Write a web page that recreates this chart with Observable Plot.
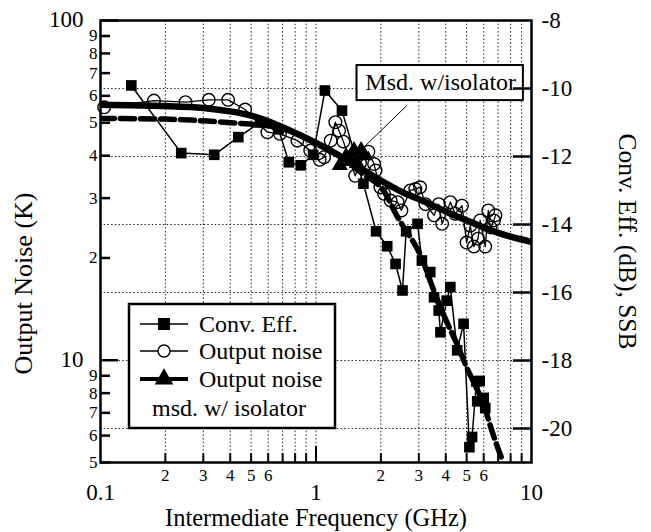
<!DOCTYPE html>
<html><head><meta charset="utf-8">
<script src="https://cdn.jsdelivr.net/npm/d3@7"></script>
<script src="https://cdn.jsdelivr.net/npm/@observablehq/plot@0.6"></script>
<style>
body{margin:0;background:#fff;}
#chart{width:651px;height:532px;}
#chart svg, #chart svg text { font-family: "Liberation Serif", "Times New Roman", "DejaVu Serif", serif !important; }
</style></head><body><div id="chart"></div>
<script>
// ---- data ----
const convFreq = [0.139,0.237,0.337,0.436,0.55,0.67,0.748,0.85,0.97,1.10,1.32,1.66,1.90,2.14,2.34,2.52,2.62,2.96,3.10,3.39,3.53,3.71,3.78,4.04,4.20,4.52,4.84,5.15,5.30,5.55,5.75,5.60,6.00,6.10];
const convDb   = [-9.91,-11.90,-11.95,-11.43,-11.0,-11.2,-12.17,-12.26,-11.95,-10.06,-10.65,-12.8,-14.2,-14.64,-15.16,-15.94,-14.2,-13.98,-15.06,-15.4,-16.14,-16.53,-17.17,-16.24,-15.84,-17.7,-16.92,-20.55,-20.25,-18.62,-18.6,-19.2,-19.1,-19.4];

const noiseFreq = [0.104,0.177,0.248,0.318,0.391,0.469,0.595,0.68,0.82,0.94,1.04,1.09,1.17,1.23,1.28,1.34,1.52,1.60,1.75,1.86,1.89,1.99,2.07,2.22,2.39,2.49,2.74,2.89,3.04,3.22,3.53,3.71,3.85,4.20,4.43,4.76,5.00,5.20,5.40,5.65,5.78,6.10,6.30,6.45,6.70,6.80];
const noiseK    = [55.5,58.1,57.5,58.4,58.4,54.7,46.9,46.4,44.3,41.4,38.9,39.6,44.3,50.2,47.4,44.0,34.9,38.0,41.1,37.8,36.2,32.3,30.9,29.5,29.2,27.6,31.6,31.9,32.3,28.8,26.7,28.8,25.2,29.2,27.0,28.5,22.2,24.9,21.6,22.8,25.8,21.6,27.6,24.6,25.8,26.7];

const isoFreq = [1.29,1.38,1.45,1.50,1.55,1.62,1.68];
const isoK    = [37.5,39.8,38.5,41.5,38.0,41.5,40.0];

const fitNoiseFreq = [0.1,0.2,0.3,0.4,0.5,0.6,0.7,0.8,1.0,1.2,1.5,2.0,2.5,3.0,3.5,4.0,5.0,6.0,7.0,8.0,10];
const fitNoiseK    = [56.5,56.0,55.3,54.0,52.5,50.5,48.5,46.7,43.6,41.0,37.8,33.8,31.3,29.8,28.5,27.4,25.8,24.6,23.7,23.1,22.3];

const fitConvFreq = [0.1,0.2,0.3,0.45,0.6,0.8,1.0,1.3,1.6,2.0,2.4,3.0,3.5,4.0,4.5,5.0,5.5,6.0,6.5,7.0,7.35];
const fitConvDb   = [-10.88,-10.9,-10.95,-11.03,-11.1,-11.3,-11.6,-12.0,-12.45,-12.9,-13.8,-14.8,-15.9,-16.8,-17.5,-18.2,-18.75,-19.3,-20.0,-20.6,-20.95];

const xGridTicks = [0.2,0.3,0.4,0.5,0.6,0.7,0.8,0.9,1,2,3,4,5,6,7,8,9];
const xMinorTicks = [0.2,0.3,0.4,0.5,0.6,0.7,0.8,0.9,2,3,4,5,6,7,8,9];
const xMajorTicks = [1];
const xBigLabels = [0.1, 1, 10];
const xSmallLabels = [0.2,0.3,0.4,0.5,0.6,2,3,4,5,6];
const yMajorK = [10, 100];
const yMinorK = [90,80,70,60,50,40,30,20,9,8,7,6,5];
const yBigLabels = [100, 10];
const ySmallLabels = [90,80,70,60,50,40,30,20,9,8,7,6,5];
const dbTicks = [-10,-12,-14,-16,-18,-20];
const dbLabels = [-8,-10,-12,-14,-16,-18,-20];

// right axis (dB, linear from -21 to -8) mapped onto the left log scale (5 .. 100 K)
const dbToK = db => 10 ** (2 - (-8 - db) / 13 * Math.log10(20));

const conv = convFreq.map((f, i) => ({f, v: dbToK(convDb[i])}));
const noise = noiseFreq.map((f, i) => ({f, v: noiseK[i]}));
const iso = isoFreq.map((f, i) => ({f, v: isoK[i]}));
const fitNoise = fitNoiseFreq.map((f, i) => ({f, v: fitNoiseK[i]}));
const fitConv = fitConvFreq.map((f, i) => ({f, v: dbToK(fitConvDb[i])}));

const serif = "Liberation Serif";
const W = 651, H = 532, mL = 100, mR = 120, mT = 20, mB = 70;
const pw = W - mL - mR, ph = H - mT - mB;
const gridStyle = {stroke: "#222", strokeWidth: 1, strokeDasharray: "1.5,2.2"};
const txt = {fill: "black", fontFamily: serif};

const plot = Plot.plot({
  width: W, height: H,
  marginLeft: mL, marginRight: mR, marginTop: mT, marginBottom: mB,
  x: {type: "log", domain: [0.1, 10], axis: null},
  y: {type: "log", domain: [5, 100], axis: null},
  style: {background: "white", color: "black", overflow: "visible"},
  marks: [
    Plot.ruleX(xGridTicks, {x: d => d, ...gridStyle}),
    Plot.ruleY(dbTicks, {y: d => dbToK(d), ...gridStyle}),
    // model curves
    Plot.line(fitNoise, {x: "f", y: "v", stroke: "black", strokeWidth: 6.5, curve: "catmull-rom", clip: true}),
    Plot.line(fitConv, {x: "f", y: "v", stroke: "black", strokeWidth: 5.5, strokeDasharray: "14,6", curve: "catmull-rom", clip: true}),
    // conv. eff.
    Plot.line(conv, {x: "f", y: "v", stroke: "black", strokeWidth: 1.5}),
    Plot.dot(conv, {x: "f", y: "v", symbol: "square", r: 6, fill: "black"}),
    // output noise
    Plot.line(noise, {x: "f", y: "v", stroke: "black", strokeWidth: 1.3}),
    Plot.dot(noise, {x: "f", y: "v", symbol: "circle", r: 6.3, stroke: "black", fill: "none", strokeWidth: 1.4}),
    // output noise with isolator
    Plot.line(iso, {x: "f", y: "v", stroke: "black", strokeWidth: 3}),
    Plot.dot(iso, {x: "f", y: "v", symbol: "triangle", r: 6, fill: "black"}),
    // annotation
    Plot.link([{x1: 2.64, y1: 56.2, x2: 1.67, y2: 42.4}], {x1: "x1", y1: "y1", x2: "x2", y2: "y2", stroke: "black", strokeWidth: 1}),
    Plot.rect([{x1: 1.55, x2: 9.17, y1: 58.1, y2: 73.7}], {x1: "x1", x2: "x2", y1: "y1", y2: "y2", fill: "white", stroke: "black", strokeWidth: 2}),
    Plot.text(["Msd. w/isolator"], {x: 3.79, y: 65.9, text: d => d, fontSize: 24, textAnchor: "middle", ...txt}),
    // frame
    Plot.frame({stroke: "black", strokeWidth: 2.5}),
    // inward ticks
    Plot.ruleY(yMajorK, {y: d => d, insetRight: pw - 18, stroke: "black", strokeWidth: 2.5}),
    Plot.ruleY(yMinorK, {y: d => d, insetRight: pw - 10, stroke: "black", strokeWidth: 2.5}),
    Plot.ruleY(dbTicks, {y: d => dbToK(d), insetLeft: pw - 18, stroke: "black", strokeWidth: 2.5}),
    Plot.ruleX(xMinorTicks, {x: d => d, insetTop: ph - 9, stroke: "black", strokeWidth: 2}),
    Plot.ruleX(xMajorTicks, {x: d => d, insetTop: ph - 16, stroke: "black", strokeWidth: 2}),
    // tick labels
    Plot.text(yBigLabels, {y: d => d, frameAnchor: "left", dx: -17, dy: -1, textAnchor: "end", lineAnchor: "middle", text: d => String(d), fontSize: 23, ...txt}),
    Plot.text(ySmallLabels, {y: d => d, frameAnchor: "left", dx: -3, textAnchor: "end", lineAnchor: "middle", text: d => String(d >= 10 ? d / 10 : d), fontSize: 17, ...txt}),
    Plot.text(dbLabels, {y: d => dbToK(d), frameAnchor: "right", dx: 10, textAnchor: "start", lineAnchor: "middle", text: d => String(d), fontSize: 23, ...txt}),
    Plot.text(xBigLabels, {x: d => d, frameAnchor: "bottom", dy: 30, textAnchor: "middle", lineAnchor: "middle", text: d => String(d), fontSize: 23, ...txt}),
    Plot.text(xSmallLabels, {x: d => d, frameAnchor: "bottom", dy: 13, textAnchor: "middle", lineAnchor: "middle", text: d => String(d < 1 ? Math.round(d * 10) : d), fontSize: 17, ...txt}),
    // axis titles
    Plot.text(["Output Noise (K)"], {frameAnchor: "left", dx: -77, dy: 42, rotate: -90, textAnchor: "middle", lineAnchor: "middle", text: d => d, fontSize: 26, ...txt}),
    Plot.text(["Conv. Eff. (dB), SSB"], {frameAnchor: "right", dx: 96, rotate: 90, textAnchor: "middle", lineAnchor: "middle", text: d => d, fontSize: 25.5, ...txt}),
    Plot.text(["Intermediate Frequency (GHz)"], {frameAnchor: "bottom", dy: 56, textAnchor: "middle", lineAnchor: "middle", text: d => d, fontSize: 24.5, ...txt})
  ]
});
document.getElementById("chart").appendChild(plot);

// ---- legend inside the plot area ----
const svg = d3.select(plot);
const lg = svg.append("g").attr("font-family", serif).attr("font-size", 24).attr("fill", "black").attr("text-anchor", "start");
lg.append("rect").attr("x", 129).attr("y", 304).attr("width", 206).attr("height", 124)
  .attr("fill", "white").attr("stroke", "black").attr("stroke-width", 2.5);
const legendRows = [
  {label: "Conv. Eff.", symbol: d3.symbolSquare, size: 113, fill: "black", lw: 1.5},
  {label: "Output noise", symbol: d3.symbolCircle, size: 113, fill: "none", lw: 1.5},
  {label: "Output noise", symbol: d3.symbolTriangle, size: 115, fill: "black", lw: 4}
];
const rowY = [324, 351, 379];
legendRows.forEach((r, i) => {
  const y = rowY[i];
  lg.append("line").attr("x1", 140).attr("x2", 188).attr("y1", y).attr("y2", y)
    .attr("stroke", "black").attr("stroke-width", r.lw);
  lg.append("path").attr("d", d3.symbol(r.symbol, r.size)()).attr("transform", `translate(164,${y})`)
    .attr("fill", r.fill === "none" ? "white" : r.fill).attr("stroke", "black").attr("stroke-width", 1.4);
  lg.append("text").attr("x", 199).attr("y", y).attr("dy", "0.35em").attr("text-anchor", "start").text(r.label);
});
lg.append("text").attr("x", 152).attr("y", 408).attr("dy", "0.35em").attr("text-anchor", "start").text("msd. w/ isolator");
</script>
</body></html>
